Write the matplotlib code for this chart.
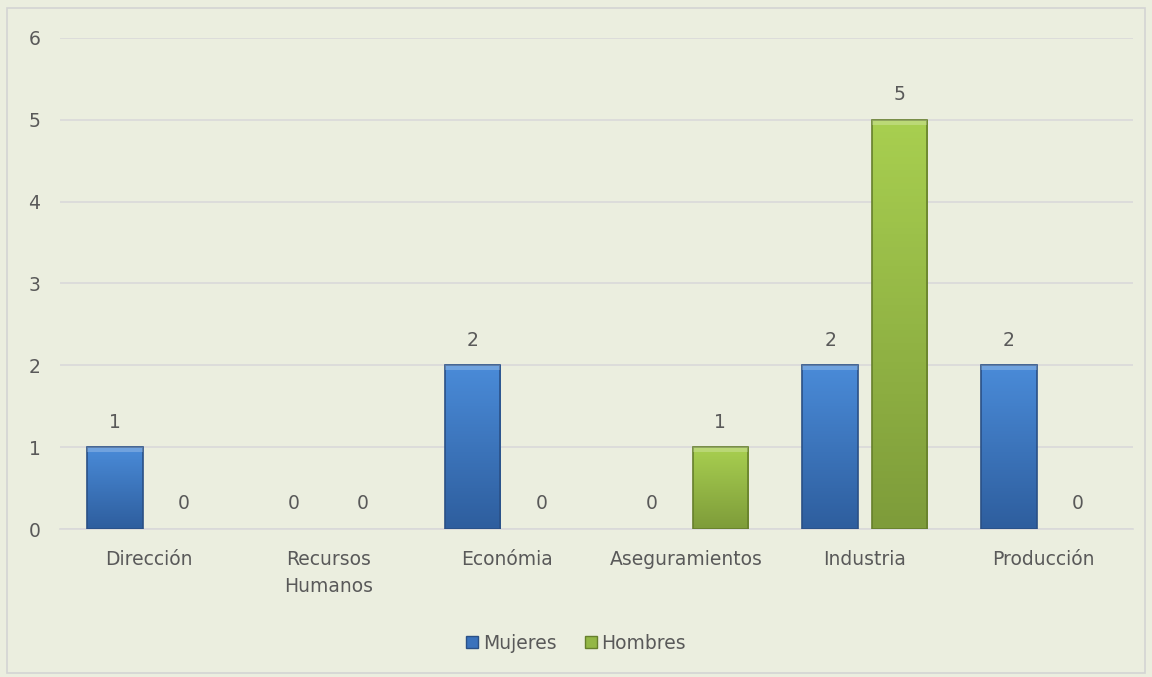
import numpy as np
import matplotlib.pyplot as plt
from matplotlib.patches import Rectangle
import matplotlib.colors as mcolors

areas = ['Dirección', 'Recursos\nHumanos', 'Económia', 'Aseguramientos', 'Industria', 'Producción']
mujeres = [1, 0, 2, 0, 2, 2]
hombres = [0, 0, 0, 1, 5, 0]
series = ['Mujeres', 'Hombres']

bg = '#EBEEDF'
txt = '#595959'
plt.rcParams['font.family'] = ['DejaVu Sans']
fs = 13.5

fig = plt.figure(figsize=(11.52, 6.77), dpi=100, facecolor=bg)
fig.patches.append(Rectangle((0.006, 0.006), 0.988, 0.982, transform=fig.transFigure,
                             fill=False, edgecolor='#D4D4D4', linewidth=1.2))
ax = fig.add_axes([0.052, 0.2186, 0.9315, 0.7253])
ax.set_facecolor(bg)

x = np.arange(len(areas))
w = 0.31
off = 0.193


def gradient_bar(ax, xc, h, top, bottom, edge):
    if h <= 0:
        return
    cmap = mcolors.LinearSegmentedColormap.from_list('g', [bottom, top])
    grad = np.linspace(0, 1, 64).reshape(-1, 1)
    im = ax.imshow(grad, cmap=cmap, origin='lower', aspect='auto',
                   extent=(xc - w / 2, xc + w / 2, 0, h), zorder=3)
    rect = Rectangle((xc - w / 2, 0), w, h, facecolor='none', edgecolor=edge,
                     linewidth=1.2, zorder=4)
    ax.add_patch(rect)
    im.set_clip_path(rect)
    # lighter bevel strip along the top
    ax.add_patch(Rectangle((xc - w / 2, h - 0.06), w, 0.06, facecolor='white',
                           alpha=0.22, edgecolor='none', zorder=4))


for i in x:
    gradient_bar(ax, i - off, mujeres[i], '#4A8BD8', '#2E5E9E', '#2A5086')
    gradient_bar(ax, i + off, hombres[i], '#A8CF50', '#7E9C3A', '#667F2C')
    ax.text(i - off, mujeres[i] + 0.19, str(mujeres[i]), ha='center', va='bottom',
            fontsize=fs, color=txt)
    ax.text(i + off, hombres[i] + 0.19, str(hombres[i]), ha='center', va='bottom',
            fontsize=fs, color=txt)

ax.set_xlim(-0.5, len(areas) - 0.5)
ax.set_ylim(0, 6)
ax.set_yticks(range(7))
ax.set_xticks(x)
ax.set_xticklabels(areas, fontsize=fs, color=txt, linespacing=1.55)
ax.tick_params(axis='y', labelsize=fs, labelcolor=txt, length=0, pad=14)
ax.tick_params(axis='x', length=0, pad=15)
ax.grid(axis='y', color='#D9D9D9', linewidth=1.2, zorder=0)
ax.set_axisbelow(True)
for s in ['top', 'right', 'left']:
    ax.spines[s].set_visible(False)
ax.spines['bottom'].set_color('#D9D9D9')
ax.spines['bottom'].set_linewidth(1.2)

handles = [Rectangle((0, 0), 1, 1, facecolor='#3A72BC', edgecolor='#2A5086'),
           Rectangle((0, 0), 1, 1, facecolor='#93B745', edgecolor='#667F2C')]
fig.legend(handles, series, loc='center', bbox_to_anchor=(0.5, 0.05), ncol=2,
           frameon=False, fontsize=fs, labelcolor=txt, handlelength=0.65,
           handleheight=0.65, handletextpad=0.25, columnspacing=1.5)

fig.savefig('out.png', dpi=100, facecolor=bg)
